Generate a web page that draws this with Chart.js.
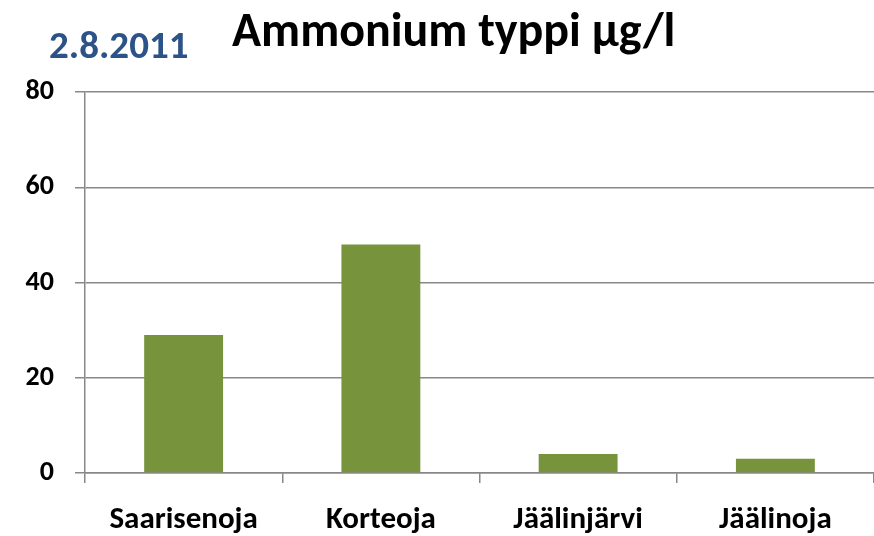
<!DOCTYPE html>
<html>
<head>
<meta charset="utf-8">
<script src="https://cdn.jsdelivr.net/npm/chart.js@4/dist/chart.umd.min.js"></script>
<style>
  html, body { margin: 0; padding: 0; background: #fff; }
  #wrap { width: 874px; height: 536px; position: relative; }
</style>
</head>
<body>
<div id="wrap"><canvas id="chart"></canvas></div>
<script>
const sites = ['Saarisenoja', 'Korteoja', 'Jäälinjärvi', 'Jäälinoja'];
const ammonium = [29, 48, 4, 3];
const yTicks = [0, 20, 40, 60, 80];
const titleText = 'Ammonium typpi µg/l';
const dateText = '2.8.2011';

const FONT = '"Carlito", "Liberation Sans Narrow", "Open Sans", sans-serif';

// headline + date drawn on top of the canvas
const headline = {
  id: 'headline',
  afterDraw(chart) {
    const ctx = chart.ctx;
    ctx.save();
    ctx.textBaseline = 'alphabetic';
    ctx.textAlign = 'left';
    ctx.fillStyle = '#000';
    ctx.font = 'bold 48px ' + FONT;
    ctx.fillText(titleText, 232, 46);
    ctx.fillStyle = '#2c5387';
    ctx.font = 'bold 39px ' + FONT;
    ctx.fillText(dateText, 49, 58);
    ctx.restore();
  }
};

new Chart(document.getElementById('chart'), {
  type: 'bar',
  data: {
    labels: sites,
    datasets: [{
      label: titleText,
      data: ammonium,
      backgroundColor: '#77933c',
      borderWidth: 0,
      barPercentage: 0.4,
      categoryPercentage: 1
    }]
  },
  options: {
    responsive: true,
    maintainAspectRatio: false,
    animation: false,
    layout: { padding: { top: 92, right: 0, left: 20, bottom: 0 } },
    plugins: { legend: { display: false }, tooltip: { enabled: false } },
    scales: {
      x: {
        afterFit(scale) { scale.height = 63; },
        grid: { offset: true, drawOnChartArea: false, drawTicks: true, tickLength: 10, color: '#888', lineWidth: 1.5 },
        border: { color: '#888', width: 1.5 },
        ticks: { color: '#000', font: { family: FONT, size: 31, weight: 'bold' }, padding: 19, maxRotation: 0 }
      },
      y: {
        min: 0, max: 80,
        afterBuildTicks(axis) { axis.ticks = yTicks.map(v => ({ value: v })); },
        afterFit(scale) { scale.width = 65; },
        grid: { color: '#888', lineWidth: 1.5, tickLength: 10 },
        border: { color: '#888', width: 1.5 },
        ticks: { color: '#000', font: { family: FONT, size: 28, weight: 'bold' }, padding: 21 }
      }
    }
  },
  plugins: [headline]
});
</script>
</body>
</html>
